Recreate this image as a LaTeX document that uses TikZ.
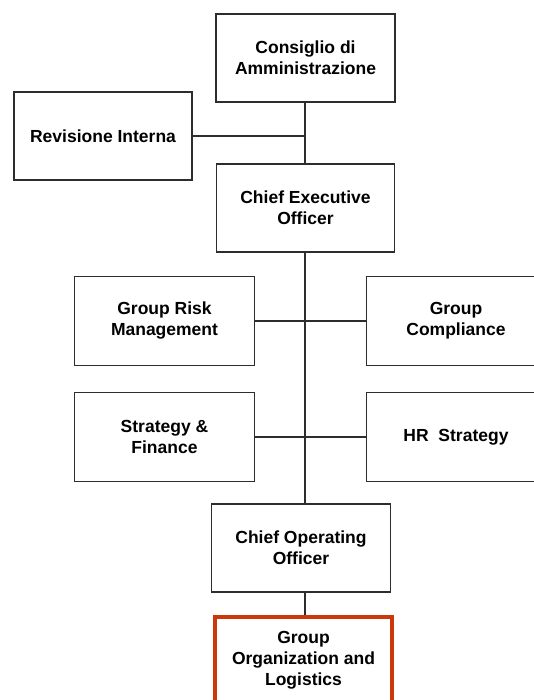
\documentclass[tikz,border=0pt]{standalone}
\usepackage{fontspec}
\setmainfont{Liberation Sans}
\definecolor{boxline}{RGB}{45,45,45}
\definecolor{redline}{RGB}{204,56,12}
\begin{document}
\begin{tikzpicture}[x=1pt,y=-1pt,
  orgbox/.style={draw=boxline, line width=1.8pt, fill=white, rectangle,
    minimum width=179pt, minimum height=88pt, inner sep=2pt, align=center,
    font=\fontsize{17.5}{21}\selectfont\bfseries, text=black},
  hlbox/.style={orgbox, draw=redline, line width=4pt, minimum width=177pt, minimum height=86pt},
  conn/.style={draw=boxline, line width=1.6pt}]
\useasboundingbox (0,0) rectangle (534,700);
\clip (0,0) rectangle (534,700);
\node[orgbox] (cda) at (305.5,58) {Consiglio di\\Amministrazione};
\node[orgbox, minimum width=178pt] (rev) at (103,136) {Revisione Interna};
\node[orgbox, minimum width=178pt] (ceo) at (305.5,208) {Chief Executive\\Officer};
\node[orgbox, minimum width=180pt, minimum height=89pt] (grm) at (164.5,321) {Group Risk\\Management};
\node[orgbox, minimum width=179pt, minimum height=89pt] (gc) at (456,321) {Group\\Compliance};
\node[orgbox, minimum width=180pt, minimum height=89pt] (sf) at (164.5,437) {Strategy \&\\Finance};
\node[orgbox, minimum width=179pt, minimum height=89pt] (hr) at (456,437) {HR~~Strategy};
\node[orgbox] (coo) at (301,548) {Chief Operating\\Officer};
\node[hlbox] (gol) at (303.5,660) {Group\\Organization and\\Logistics};
\coordinate (trunk) at (305,0);
\draw[conn] (cda.south -| trunk) -- (ceo.north -| trunk);
\draw[conn] (rev.east) -- (rev.east -| trunk);
\draw[conn] (ceo.south -| trunk) -- (coo.north -| trunk);
\draw[conn] (grm.east) -- (gc.west);
\draw[conn] (sf.east) -- (hr.west);
\draw[conn] (coo.south -| trunk) -- (gol.north -| trunk);
\end{tikzpicture}
\end{document}
